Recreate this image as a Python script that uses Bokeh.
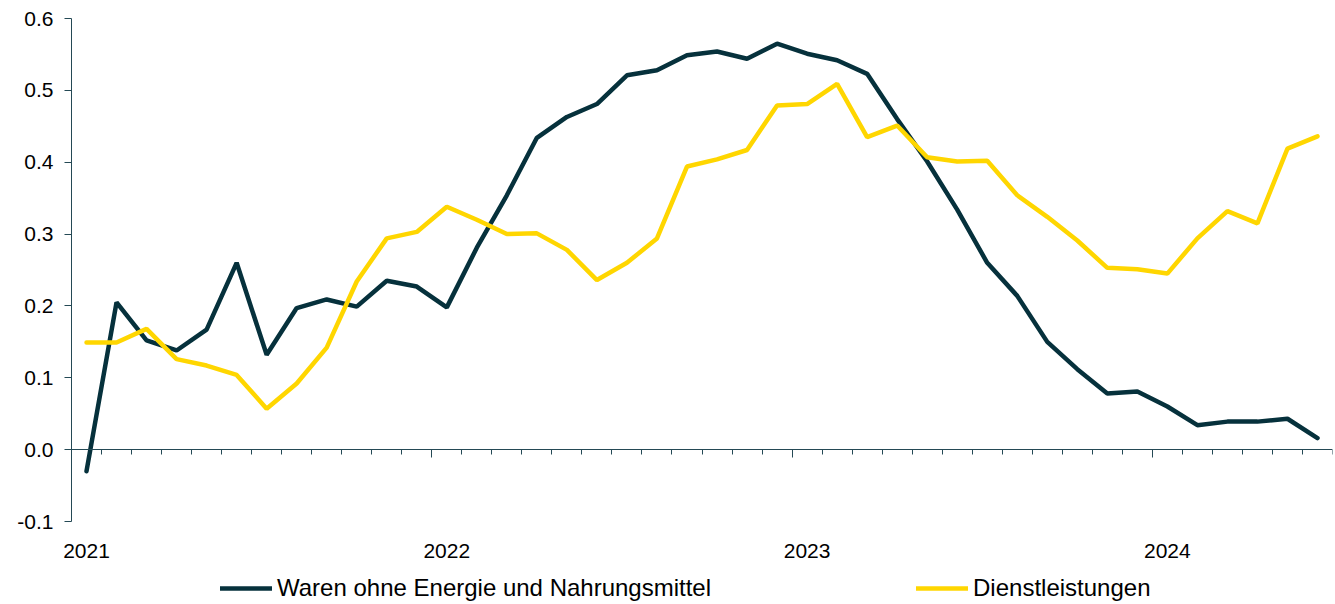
import numpy as np
import pandas as pd
from bokeh.plotting import figure
from bokeh.models import (LinearAxis, FixedTicker, NumeralTickFormatter, Legend,
                          LegendItem, Range1d)
from bokeh.embed import file_html
from bokeh.resources import INLINE

# ---- data (monthly, Jan 2021 - Jun 2024) ----
months = pd.date_range("2021-01-01", periods=42, freq="MS")
waren = [-0.030, 0.205, 0.152, 0.138, 0.167, 0.260, 0.132, 0.197, 0.209, 0.199,
         0.235, 0.227, 0.198, 0.281, 0.354, 0.434, 0.463, 0.481, 0.521, 0.528,
         0.549, 0.554, 0.544, 0.565, 0.551, 0.542, 0.523, 0.460, 0.401, 0.334,
         0.260, 0.214, 0.150, 0.112, 0.078, 0.081, 0.060, 0.034, 0.039, 0.039,
         0.043, 0.016]
dienst = [0.149, 0.149, 0.168, 0.126, 0.117, 0.104, 0.057, 0.092, 0.142, 0.234,
          0.294, 0.303, 0.338, 0.320, 0.300, 0.301, 0.278, 0.236, 0.260, 0.294,
          0.394, 0.404, 0.417, 0.479, 0.481, 0.509, 0.435, 0.451, 0.407, 0.401,
          0.402, 0.354, 0.324, 0.291, 0.253, 0.251, 0.245, 0.294, 0.332, 0.315,
          0.419, 0.436]
series_names = ["Waren ohne Energie und Nahrungsmittel", "Dienstleistungen"]
y_ticks = [-0.1, 0.0, 0.1, 0.2, 0.3, 0.4, 0.5, 0.6]

DARK = "#06313C"
YELLOW = "#FFD600"
AX = "#244955"
FONT = "Liberation Sans"

x = np.arange(len(months))
year_pos = [int(i) for i in x if months[i].month == 1]
year_labels = [str(months[i].year) for i in year_pos]
month_bounds = [float(i) - 0.5 for i in range(len(months) + 1)]
year_bounds = [float(i) - 0.5 for i in year_pos]

# layout: plot area 1261 x 503 px; the margins around it (left 71, top 18,
# bottom 83) are also part of the frame so axis labels and legend are not clipped
AXIS_W, LEFT_PX = 1261, 71
AXIS_PX, TOP_PX, BELOW_PX = 503, 18, 83
x_lo, x_hi = -0.5, len(months) - 0.5
y_lo, y_hi = min(y_ticks), max(y_ticks)
x_start = x_lo - LEFT_PX / (AXIS_W / (x_hi - x_lo))
y_ppu = AXIS_PX / (y_hi - y_lo)
y_start = y_lo - BELOW_PX / y_ppu
y_end = y_hi + TOP_PX / y_ppu

p = figure(frame_width=AXIS_W + LEFT_PX, frame_height=TOP_PX + AXIS_PX + BELOW_PX,
           output_backend="svg", toolbar_location=None,
           x_range=Range1d(x_start, x_hi), y_range=Range1d(y_start, y_end),
           x_axis_location=None, y_axis_location=None,
           min_border_left=0, min_border_right=3, min_border_top=0,
           min_border_bottom=0)
p.outline_line_color = None
p.xgrid.visible = False
p.ygrid.visible = False

yaxis = LinearAxis(fixed_location=x_lo, ticker=FixedTicker(ticks=y_ticks), bounds=(y_lo, y_hi),
                   formatter=NumeralTickFormatter(format="0.0"),
                   major_tick_out=7, major_tick_in=0, minor_tick_out=0, minor_tick_in=0,
                   axis_line_color=AX, major_tick_line_color=AX,
                   major_label_text_font=FONT, major_label_text_font_size="21px",
                   major_label_text_color="#000000", major_label_standoff=11)
p.add_layout(yaxis, "left")

zero_axis = LinearAxis(fixed_location=0, bounds=(x_lo, x_hi),
                       ticker=FixedTicker(ticks=year_bounds, minor_ticks=month_bounds),
                       major_tick_out=8, major_tick_in=0, minor_tick_out=5, minor_tick_in=0,
                       axis_line_color=AX, major_tick_line_color=AX, minor_tick_line_color=AX,
                       major_label_text_alpha=0, major_label_text_font_size="1px",
                       major_label_standoff=0)
p.add_layout(zero_axis, "below")

label_axis = LinearAxis(fixed_location=y_lo, ticker=FixedTicker(ticks=year_pos),
                        major_label_overrides={i: lab for i, lab in zip(year_pos, year_labels)},
                        axis_line_color=None, major_tick_line_color=None,
                        minor_tick_line_color=None, major_tick_out=0, major_tick_in=0,
                        minor_tick_out=0, minor_tick_in=0,
                        major_label_text_font=FONT, major_label_text_font_size="21px",
                        major_label_text_color="#000000", major_label_standoff=22)
p.add_layout(label_axis, "below")

r1 = p.line(x, waren, line_color=DARK, line_width=4.5, line_cap="round")
r2 = p.line(x, dienst, line_color=YELLOW, line_width=4.5, line_cap="round")

legend = Legend(items=[LegendItem(label=series_names[0], renderers=[r1]),
                       LegendItem(label=series_names[1], renderers=[r2])],
                orientation="horizontal", location=(220, 2), spacing=205,
                glyph_width=52, glyph_height=20, label_standoff=5,
                label_text_font=FONT, label_text_font_size="24px",
                label_text_color="#000000", border_line_color=None,
                background_fill_alpha=0, padding=0, margin=0)
p.add_layout(legend)

open("out.html", "w").write(file_html(p, INLINE))
